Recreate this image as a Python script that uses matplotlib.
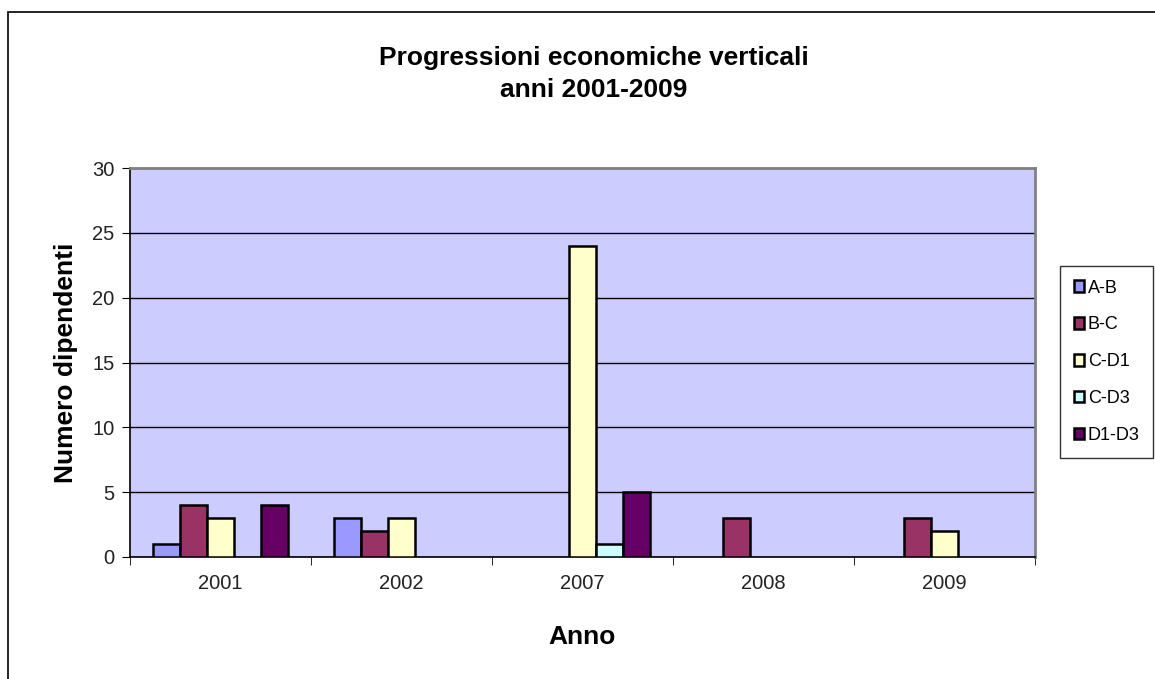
import numpy as np
import matplotlib.pyplot as plt
from matplotlib.patches import Rectangle

plt.rcParams['font.family'] = ['Liberation Sans', 'DejaVu Sans']

anni = ["2001", "2002", "2007", "2008", "2009"]
serie = ["A-B", "B-C", "C-D1", "C-D3", "D1-D3"]
ab = [1, 3, 0, 0, 0]
bc = [4, 2, 0, 3, 3]
cd1 = [3, 3, 24, 0, 2]
cd3 = [0, 0, 1, 0, 0]
d1d3 = [4, 0, 5, 0, 0]
colori = ["#9999FF", "#993366", "#FFFFCC", "#CCFFFF", "#660066"]

valori = [ab, bc, cd1, cd3, d1d3]

fig = plt.figure(figsize=(11.55, 6.79), dpi=100)
# bordo esterno del grafico
fig.patches.append(Rectangle((8 / 1155, -0.01), 1.1, (679 - 12) / 679 + 0.01,
                             transform=fig.transFigure, fill=False,
                             edgecolor="black", linewidth=1.2))

ax = fig.add_axes([130 / 1155, 1 - 557 / 679, 905 / 1155, 389 / 679])
ax.set_facecolor("#CCCCFF")

x = np.arange(len(anni))
w = 0.15
for i, (nome, vals, c) in enumerate(zip(serie, valori, colori)):
    vals = np.array(vals, dtype=float)
    vals[vals == 0] = np.nan  # niente barre vuote
    pos = x - 2 * w + i * w
    ax.bar(pos, vals, width=w, color=c, edgecolor="black", linewidth=1.8,
           label=nome, zorder=3)

ax.set_xlim(-0.5, len(anni) - 0.5)
ax.set_ylim(0, 30)
ax.set_yticks(range(0, 31, 5))
ax.yaxis.grid(True, color="black", linewidth=1)
ax.set_axisbelow(True)
ax.set_xticks(x)
ax.set_xticklabels(anni)
ax.set_xticks(np.arange(-0.5, len(anni), 1), minor=True)
ax.tick_params(axis="x", which="major", length=0, pad=12, labelsize=14.5, colors="#222222")
ax.tick_params(axis="x", which="minor", length=6, direction="out")
ax.tick_params(axis="y", length=6, labelsize=14.5, pad=5, labelcolor="#222222")

for s in ["top", "right"]:
    ax.spines[s].set_color("#808080")
    ax.spines[s].set_linewidth(2)
ax.spines["left"].set_linewidth(1.2)
ax.spines["bottom"].set_linewidth(1.2)

ax.set_ylabel("Numero dipendenti", fontsize=19, fontweight="bold", labelpad=10)
ax.set_xlabel("Anno", fontsize=19, fontweight="bold", labelpad=23)

fig.text(594 / 1155, 1 - 74 / 679, "Progressioni economiche verticali\nanni 2001-2009",
         ha="center", va="center", fontsize=19, fontweight="bold", linespacing=1.4)

leg = ax.legend(loc="upper left", bbox_to_anchor=(1060 / 1155, 1 - 266 / 679),
                bbox_transform=fig.transFigure, frameon=True, fancybox=False,
                fontsize=13, handlelength=0.6, handleheight=0.6,
                handletextpad=0.2, labelspacing=1.1, borderpad=0.75,
                borderaxespad=0)
leg.get_frame().set_edgecolor("black")
leg.get_frame().set_linewidth(1)

fig.savefig("out.png", dpi=100)
